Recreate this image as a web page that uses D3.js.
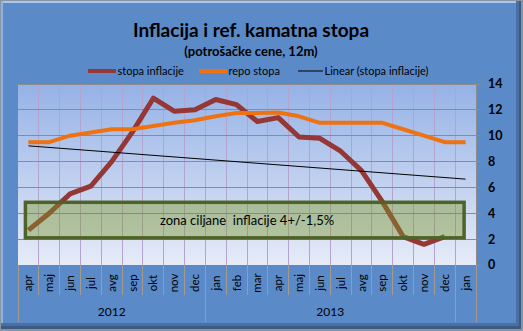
<!DOCTYPE html>
<html><head><meta charset="utf-8">
<script src="https://cdn.jsdelivr.net/npm/d3@7"></script>
<style>html,body{margin:0;padding:0;background:#808080;}svg{display:block;}</style>
</head><body>
<svg id="c" width="523" height="331"></svg>
<script>
// ---- data ----
const months = ["apr","maj","jun","jul","avg","sep","okt","nov","dec","jan","feb","mar","apr","maj","jun","jul","avg","sep","okt","nov","dec","jan"];
const years = [{label:"2012", from:0, to:9},{label:"2013", from:9, to:21}];
const inflation = [2.7,4.0,5.5,6.1,8.0,10.3,12.9,11.9,12.0,12.8,12.4,11.1,11.4,9.9,9.8,8.8,7.3,4.9,2.2,1.6,2.2];
const repo = [9.5,9.5,10.0,10.25,10.5,10.5,10.75,11.0,11.2,11.5,11.75,11.75,11.8,11.5,11.0,11.0,11.0,11.0,10.5,10.0,9.5,9.5];
const yTicks = [0,2,4,6,8,10,12,14];
const zoneBand = [2.1, 4.85];
const zoneLabel = "zona ciljane  inflacije 4+/-1,5%";
const legendNames = ["stopa inflacije","repo stopa","Linear (stopa inflacije)"];
const titleText = "Inflacija i ref. kamatna stopa";
const subtitleText = "(potrošačke cene, 12m)";

// linear trendline (least squares of inflation), extended over all categories
const n = inflation.length;
const mx = d3.mean(inflation, (d,i)=>i), my = d3.mean(inflation);
const slope = d3.sum(inflation,(d,i)=>(i-mx)*(d-my)) / d3.sum(inflation,(d,i)=>(i-mx)*(i-mx));
const icpt = my - slope*mx;
const trend = [0, months.length-1].map(i => ({i, v: icpt + slope*i}));

const svg = d3.select("#c");
const W = 523, H = 331;
const font = "Lato, 'Open Sans', sans-serif";

// ---- frame ----
const defs = svg.append("defs");
const pg = defs.append("linearGradient").attr("id","pg").attr("x1",0).attr("y1",0).attr("x2",0).attr("y2",1);
pg.append("stop").attr("offset","0%").attr("stop-color","#95b2e6");
pg.append("stop").attr("offset","100%").attr("stop-color","#e6ebf7");

svg.append("rect").attr("width",W).attr("height",H).attr("fill","#8a94a0");
svg.append("rect").attr("x",1).attr("y",1).attr("width",520).attr("height",328).attr("fill","#3c5a86");
svg.append("rect").attr("x",1).attr("y",1).attr("width",515).attr("height",322).attr("fill","#5a8ac8");
svg.append("rect").attr("x",516).attr("y",1).attr("width",3).attr("height",325).attr("fill","#4a6fa3");
svg.append("rect").attr("x",1).attr("y",323).attr("width",518).attr("height",3).attr("fill","#4a6fa3");
svg.append("line").attr("x1",1).attr("x2",516).attr("y1",2).attr("y2",2).attr("stroke","#a8c6f2").attr("stroke-width",2);
svg.append("line").attr("x1",2).attr("x2",2).attr("y1",1).attr("y2",323).attr("stroke","#8fb2e6").attr("stroke-width",2);

// ---- scales ----
const x = d3.scaleBand().domain(d3.range(months.length)).range([18,476]).paddingInner(0).paddingOuter(0);
const y = d3.scaleLinear().domain([0,14]).range([265,84]);
const bw = x.bandwidth();
const cx = i => x(i) + bw/2;
const edge = i => 18 + i*bw;

// plot area
svg.append("rect").attr("x",18).attr("y",y(14)).attr("width",458).attr("height",y(0)-y(14)).attr("fill","url(#pg)");

// vertical gridlines
svg.append("g").selectAll("line").data(d3.range(1, months.length)).join("line")
  .attr("x1",edge).attr("x2",edge).attr("y1",y(14)).attr("y2",y(0))
  .attr("stroke","#b3a3cf").attr("stroke-width",1).attr("shape-rendering","crispEdges");
// horizontal gridlines + ticks on right axis
svg.append("g").selectAll("line").data(yTicks.filter(d=>d>0)).join("line")
  .attr("x1",18).attr("x2",481).attr("y1",d=>y(d)).attr("y2",d=>y(d))
  .attr("stroke","#8c8c8c").attr("stroke-width",1).attr("shape-rendering","crispEdges");
svg.append("line").attr("x1",476).attr("x2",481).attr("y1",y(0)).attr("y2",y(0)).attr("stroke","#8c8c8c").attr("shape-rendering","crispEdges");
svg.append("line").attr("x1",476).attr("x2",476).attr("y1",y(14)).attr("y2",y(0)).attr("stroke","#8c8c8c").attr("shape-rendering","crispEdges");

// y labels (right)
svg.append("g").selectAll("text").data(yTicks).join("text")
  .attr("x",488).attr("y",d=>y(d)).attr("dy","0.35em")
  .attr("font-family",font).attr("font-weight","bold").attr("font-size",12.5).attr("fill","#000")
  .text(d=>d);

// category separators
const yearEdges = new Set([0, ...years.map(d=>d.from), ...years.map(d=>d.to), months.length]);
svg.append("g").selectAll("line").data(d3.range(0, months.length+1)).join("line")
  .attr("x1",edge).attr("x2",edge).attr("y1",y(0))
  .attr("y2",d=> yearEdges.has(d) ? 322 : 295)
  .attr("stroke","#a49a90").attr("stroke-width",1).attr("shape-rendering","crispEdges");

// month labels
svg.append("g").selectAll("text").data(months).join("text")
  .attr("transform",(d,i)=>`translate(${cx(i)+4},283) rotate(-90)`)
  .attr("text-anchor","middle")
  .attr("font-family",font).attr("font-size",11.5).attr("fill","#000")
  .text(d=>d);
// year labels
svg.append("g").selectAll("text").data(years).join("text")
  .attr("x",d=>(edge(d.from)+edge(d.to))/2).attr("y",316)
  .attr("text-anchor","middle")
  .attr("font-family",font).attr("font-size",12).attr("fill","#000")
  .text(d=>d.label);

// series lines
const line = d3.line().x((d,i)=>cx(i)).y(d=>y(d));
svg.append("path").datum(inflation).attr("d",line)
  .attr("fill","none").attr("stroke","#953735").attr("stroke-width",5).attr("stroke-linejoin","round");
svg.append("path").datum(repo).attr("d",line)
  .attr("fill","none").attr("stroke","#ee7211").attr("stroke-width",4).attr("stroke-linejoin","round");
svg.append("path").datum(trend).attr("d",d3.line().x(d=>cx(d.i)).y(d=>y(d.v)))
  .attr("fill","none").attr("stroke","#000").attr("stroke-width",1);

// target zone
const zx0 = cx(0) - 3, zx1 = cx(months.length-1) - 1.5;
svg.append("rect").attr("x",zx0).attr("y",y(zoneBand[1])).attr("width",zx1-zx0).attr("height",y(zoneBand[0])-y(zoneBand[1]))
  .attr("fill","#7d9a2a").attr("fill-opacity",0.43).attr("stroke","#4f6228").attr("stroke-width",3.5);
svg.append("text").attr("x",247).attr("y",y((zoneBand[0]+zoneBand[1])/2)).attr("dy","0.35em")
  .attr("text-anchor","middle").attr("font-family",font).attr("font-size",13).attr("fill","#000")
  .attr("xml:space","preserve").style("white-space","pre")
  .text(zoneLabel);

// title
svg.append("text").attr("x",251).attr("y",37).attr("text-anchor","middle")
  .attr("font-family",font).attr("font-weight","bold").attr("font-size",19).attr("fill","#000").text(titleText);
svg.append("text").attr("x",251).attr("y",56).attr("text-anchor","middle")
  .attr("font-family",font).attr("font-weight","bold").attr("font-size",13).attr("fill","#000").text(subtitleText);

// legend
const legend = [
  {name:legendNames[0], x0:88, x1:116, color:"#953735", w:4},
  {name:legendNames[1], x0:199, x1:227, color:"#ee7211", w:4},
  {name:legendNames[2], x0:298, x1:323, color:"#000", w:1}
];
const lg = svg.append("g").selectAll("g").data(legend).join("g");
lg.append("line").attr("x1",d=>d.x0).attr("x2",d=>d.x1).attr("y1",71).attr("y2",71)
  .attr("stroke",d=>d.color).attr("stroke-width",d=>d.w);
lg.append("text").attr("x",d=>d.x1+1.5).attr("y",71).attr("dy","0.35em")
  .attr("font-family",font).attr("font-size",11).attr("fill","#000").text(d=>d.name);
</script>
</body></html>
